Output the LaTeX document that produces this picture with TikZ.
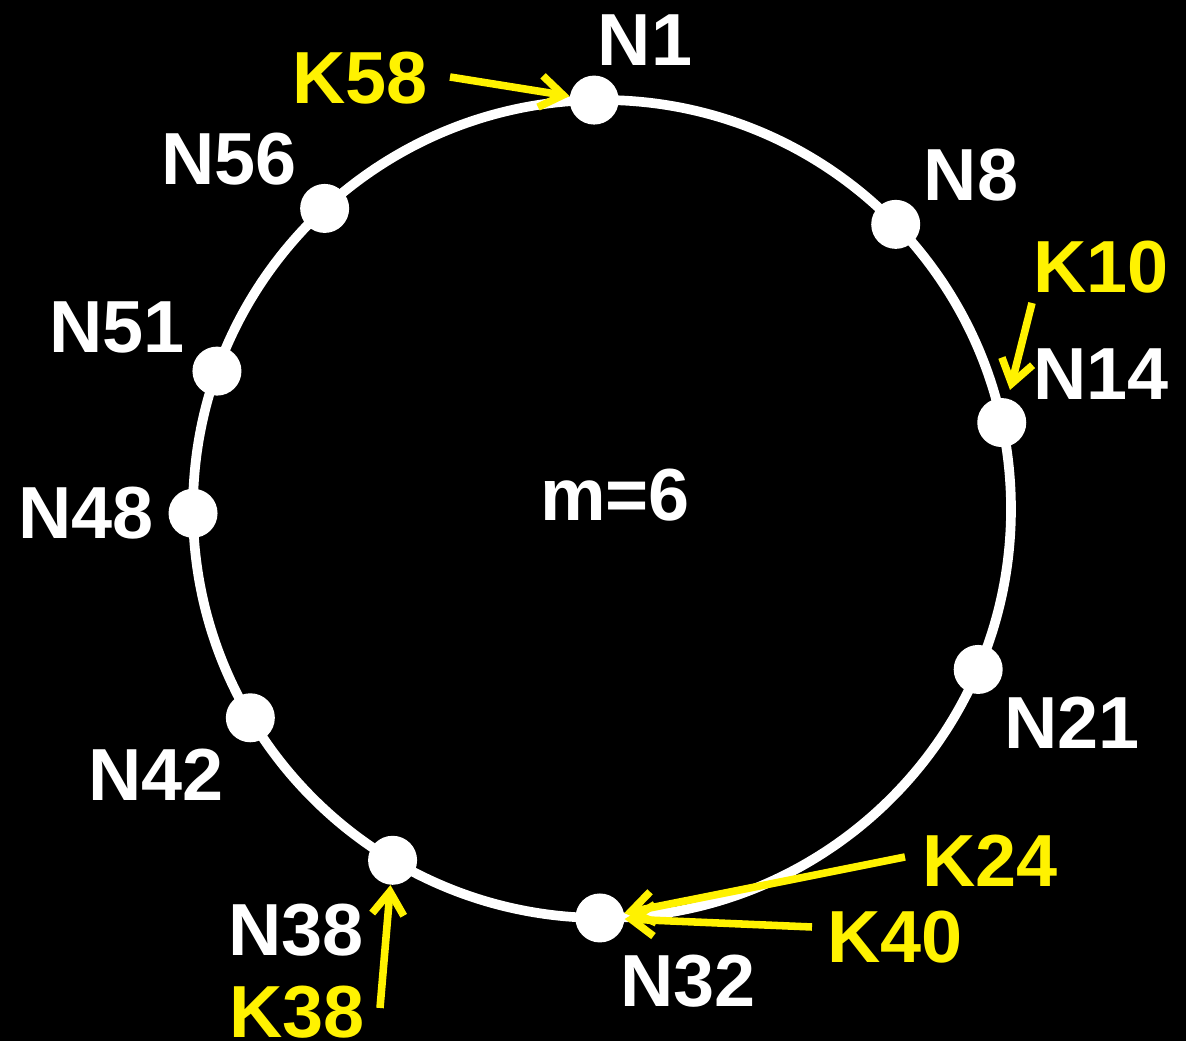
\documentclass[tikz,border=0pt]{standalone}
\usepackage{fontspec}
\setmainfont{Liberation Sans}
\usetikzlibrary{arrows.meta}

\begin{document}
\begin{tikzpicture}[
		ringdot/.style={circle,fill=white,minimum size=0.98cm,inner sep=0pt},
		nodelabel/.style={text=white,inner sep=0pt,font=\fontsize{42}{42}\selectfont\bfseries},
		keylabel/.style={text=yellow,inner sep=0pt,font=\fontsize{42}{42}\selectfont\bfseries},
		keyarrow/.style={draw=yellow,line width=4.3pt,-{Straight Barb[length=13pt,width=18pt]}}]
		\fill[black] (0,0) rectangle (23.72,20.82);
		\useasboundingbox (0,0) rectangle (23.72,20.82);

		\coordinate (c) at (12.04,10.64);
		\draw[white,line width=5.5pt] (c) circle (8.18);

		\foreach \a/\n in {91.1/n1,44.1/n8,12.2/n14,-23.1/n21,269.7/n32,239.2/n38,210.7/n42,180.6/n48,160.3/n51,132.7/n56}
			\node[ringdot] (\n) at ([shift={(\a:8.18)}]c) {};

		\node[nodelabel] (m) at (12.3,10.92) {m=6};

		\node[nodelabel] (l1) at (12.9,20.02) {N1};
		\node[nodelabel] (l8) at (19.42,17.32) {N8};
		\node[nodelabel] (l14) at (22.02,13.34) {N14};
		\node[nodelabel] (l21) at (21.44,6.36) {N21};
		\node[nodelabel] (l32) at (13.76,1.2) {N32};
		\node[nodelabel] (l38) at (5.92,2.22) {N38};
		\node[nodelabel] (l42) at (3.12,5.32) {N42};
		\node[nodelabel] (l48) at (1.72,10.56) {N48};
		\node[nodelabel] (l51) at (2.34,14.28) {N51};
		\node[nodelabel] (l56) at (4.58,17.64) {N56};

		\node[keylabel] (k58) at (7.2,19.26) {K58};
		\node[keylabel] (k10) at (22.02,15.48) {K10};
		\node[keylabel] (k24) at (19.8,3.6) {K24};
		\node[keylabel] (k40) at (17.9,2.08) {K40};
		\node[keylabel] (k38) at (5.94,0.58) {K38};

		\coordinate (t58) at (9.0,19.28);
		\coordinate (t10) at (20.64,14.76);
		\coordinate (t24) at (18.1,3.68);
		\coordinate (t40) at (16.24,2.28);
		\coordinate (t38) at (7.6,0.66);

		\draw[keyarrow] (t58) -- (n1);
		\draw[keyarrow,shorten >=5pt] (t10) -- (n14);
		\draw[keyarrow] (t24) -- (n32);
		\draw[keyarrow] (t40) -- (n32);
		\draw[keyarrow] (t38) -- (n38);
	\end{tikzpicture}
\end{document}
